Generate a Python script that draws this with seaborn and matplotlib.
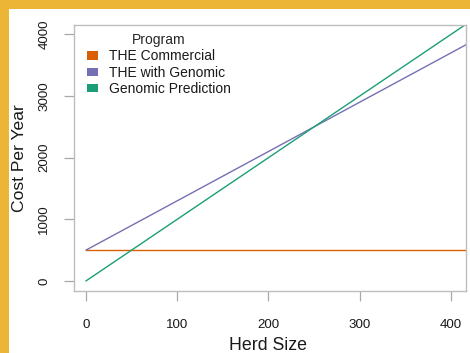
import matplotlib
matplotlib.use("Agg")
import matplotlib.pyplot as plt
from matplotlib.patches import Rectangle, Patch
import seaborn as sns
import pandas as pd

# Annual cost by herd size for each program
herd_size = [0, 100, 200, 300, 400, 420]
the_commercial = [500, 500, 500, 500, 500, 500]
the_with_genomic = [500, 1300, 2100, 2900, 3700, 3860]
genomic_prediction = [0, 1000, 2000, 3000, 4000, 4200]

programs = ["THE Commercial", "THE with Genomic", "Genomic Prediction"]
colors = ["#D95F02", "#7570B3", "#1B9E77"]
x_ticks = [0, 100, 200, 300, 400]
y_ticks = [0, 1000, 2000, 3000, 4000]

df = pd.concat([
    pd.DataFrame({"Herd Size": herd_size, "Cost": vals, "Program": name})
    for name, vals in zip(programs, [the_commercial, the_with_genomic, genomic_prediction])
])

sns.set_style("white")
plt.rcParams["font.family"] = ["Liberation Sans", "DejaVu Sans"]

fig = plt.figure(figsize=(4.70, 3.53), dpi=100)
fig.patch.set_facecolor("#ECB535")
# white slide panel
fig.add_artist(Rectangle((9 / 470, 0), 1, 1 - 9 / 353, transform=fig.transFigure,
                         facecolor="white", edgecolor="none", zorder=0))

ax = fig.add_axes([74 / 470, 1 - 291 / 353, 391.7 / 470, 266 / 353])
ax.set_facecolor("white")

sns.lineplot(data=df, x="Herd Size", y="Cost", hue="Program", hue_order=programs,
             palette=dict(zip(programs, colors)), lw=1.0, ax=ax, legend=False,
             estimator=None, sort=True)

ax.set_xlim(-13, 416)
ax.set_ylim(-162, 4151)
ax.set_xticks(x_ticks)
ax.set_yticks(y_ticks)
ax.set_yticklabels([str(v) for v in y_ticks], rotation=90, va="center")

for s in ax.spines.values():
    s.set_color("#BDBDBD")
    s.set_linewidth(1.0)

ax.tick_params(axis="both", which="major", direction="out", length=7.5, width=0.9,
               color="#A8A8A8", labelsize=9.6, labelcolor="#1A1A1A")
ax.tick_params(axis="x", pad=13)
ax.tick_params(axis="y", pad=9.5)
ax.xaxis.set_ticks_position("bottom")
ax.yaxis.set_ticks_position("left")

ax.set_xlabel("Herd Size", fontsize=12.8, color="#1A1A1A")
ax.set_ylabel("Cost Per Year", fontsize=12.6, color="#1A1A1A")
ax.xaxis.set_label_coords((268 - 74) / 391.7, (291 - 345) / 266)
ax.yaxis.set_label_coords((20 - 74) / 391.7, 0.5)
ax.xaxis.label.set_va("center")
ax.yaxis.label.set_va("center")

handles = [Patch(facecolor=c, edgecolor="none") for c in colors]
leg = ax.legend(handles, programs, title="Program", loc="upper left",
                bbox_to_anchor=(0.005, 1.012), frameon=False, fontsize=10,
                title_fontsize=10, handlelength=0.78, handleheight=0.55,
                handletextpad=0.8, labelspacing=0.17, borderpad=0.3)
for t in leg.get_texts():
    t.set_color("#1A1A1A")

fig.savefig("out.png", dpi=100, facecolor=fig.get_facecolor())
